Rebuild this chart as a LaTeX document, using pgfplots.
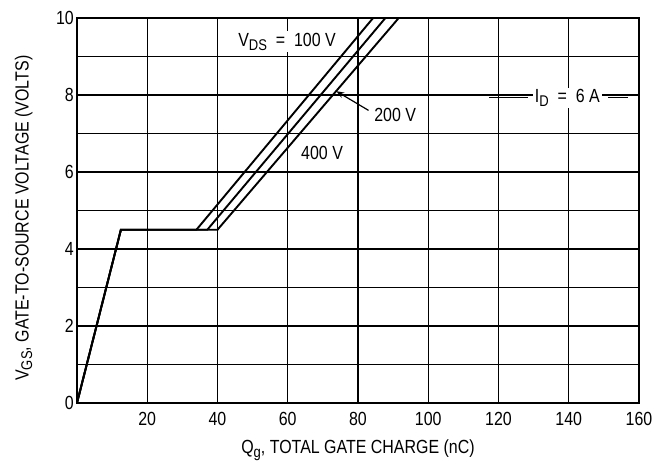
\documentclass[border=0pt]{standalone}
\usepackage{fontspec}
\setmainfont{Liberation Sans}[FakeStretch=0.84]
\usepackage{pgfplots}
\pgfplotsset{compat=1.18}
\usetikzlibrary{arrows.meta}
\newcommand\sub[1]{\raisebox{-0.35ex}{\fontsize{15.5bp}{15.5bp}\selectfont #1}}
\newcommand\fnt{\fontsize{19bp}{22bp}\selectfont}
\begin{document}
\fnt
\begin{tikzpicture}
\begin{axis}[name=ax, scale only axis, width=562bp, height=385bp,
  xmin=0, xmax=160, ymin=0, ymax=10,
  xtick={20,40,...,160}, ytick={0,1,...,10},
  yticklabels={0,,2,,4,,6,,8,,10},
  grid=major, grid style={black, line width=1.1bp},
  axis line style={line width=1.7bp},
  major tick length=0pt, tick style={draw=none},
  /pgf/number format/assume math mode=true,
  ticklabel style={font=\fnt},
  yticklabel style={inner sep=3bp},
  xticklabel style={inner sep=3bp, yshift=-6bp},
  xlabel={Q\sub{g}, TOTAL GATE CHARGE (nC)},
  ylabel={V\sub{GS}, GATE-TO-SOURCE VOLTAGE (VOLTS)},
  every axis x label/.style={at={(axis description cs:0.5,-0.122)}, anchor=center, font=\fnt},
  every axis y label/.style={at={(axis description cs:-0.095,0.48)}, rotate=90, anchor=center, font=\fnt},
  clip=false]
\addplot[black, line width=1.9bp] coordinates {(0,0) (12.5,4.5) (34,4.5) (84.3,10)};
\addplot[black, line width=1.9bp] coordinates {(0,0) (12.5,4.5) (37.1,4.5) (87.8,10)};
\addplot[black, line width=1.9bp] coordinates {(0,0) (12.5,4.5) (40,4.5) (91.6,10)};
\node[anchor=west, fill=white, inner sep=2bp] at (axis cs:45.3,9.38) {V\sub{DS} \ = \ 100 V};
\node[anchor=west, inner sep=1bp] at (axis cs:84.3,7.48) {200 V};
\draw[-{Stealth[length=8bp,width=6bp]}, line width=1.2bp] (axis cs:83,7.6) -- (axis cs:73.8,8.1);
\node[anchor=west, fill=white, inner sep=1bp] at (axis cs:63.5,6.49) {400 V};
\draw[line width=1.2bp] (axis cs:117.4,7.93) -- (axis cs:128.5,7.93);
\draw[line width=1.2bp] (axis cs:151.3,7.93) -- (axis cs:157,7.93);
\node[fill=white, inner sep=2bp] at (axis cs:139.6,7.92) {I\sub{D} \ = \ 6 A};
\end{axis}
\pgfresetboundingbox
\path[use as bounding box] ([shift={(-77bp,-60bp)}]ax.south west) rectangle ([shift={(19bp,18bp)}]ax.north east);
\end{tikzpicture}
\end{document}
